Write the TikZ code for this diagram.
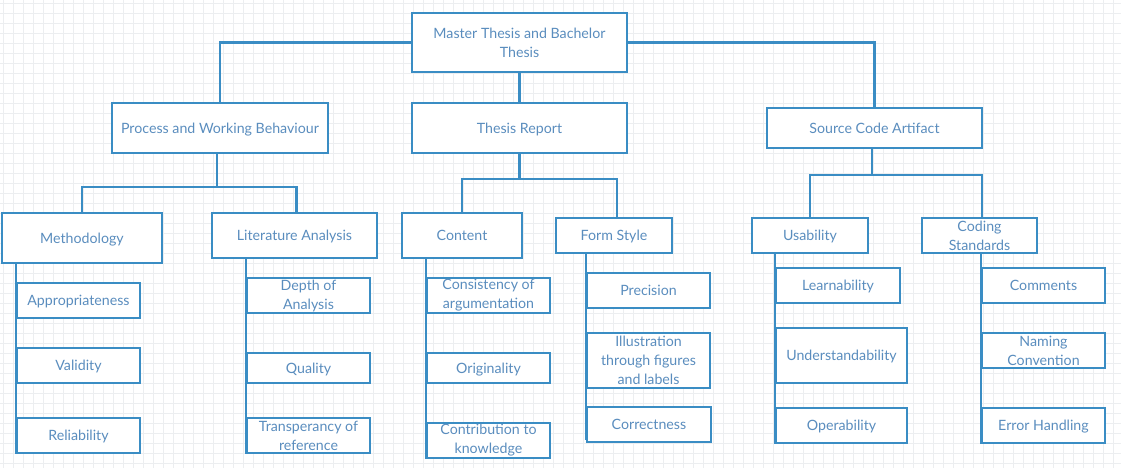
\documentclass[tikz,border=0pt]{standalone}
\usepackage{fontspec}
\setmainfont{Lato}
\usetikzlibrary{positioning}
\definecolor{boxblue}{HTML}{3A8DC4}
\definecolor{textblue}{HTML}{5A8DBE}
\definecolor{gridgrey}{HTML}{ECEEF0}
\tikzstyle{block} = [rectangle, draw=boxblue, line width=2.4pt, fill=white, text=textblue, align=center, inner sep=0pt, font=\fontsize{14.2}{19}\selectfont]
\tikzstyle{oneline} = [block, text height=12.5pt, text depth=1.8pt]
\tikzstyle{line} = [draw=boxblue, line width=2.4pt]
\tikzstyle{gridline} = [draw=gridgrey, line width=0.8pt]

\begin{document}
\begin{tikzpicture}[x=1pt, y=-1pt]
    \useasboundingbox (0,0) rectangle (1121,468);
    % Background grid
    \fill[white] (0,0) rectangle (1121,468);
    \foreach \gx in {3,13,...,1121} \path[gridline] (\gx,0) -- (\gx,468);
    \foreach \gy in {3,13,...,468} \path[gridline] (0,\gy) -- (1121,\gy);
    % Place nodes
    \node [block, minimum width=215, minimum height=59] (thesis) at (519.5,42.5) {Master Thesis and Bachelor\\Thesis};
    \node [oneline, minimum width=216, minimum height=50] (process) at (220,128) {Process and Working Behaviour};
    \node [oneline, minimum width=215, minimum height=50] (report) at (519.5,128) {Thesis Report};
    \node [oneline, minimum width=215, minimum height=40] (source) at (874.5,128) {Source Code Artifact};
    \node [oneline, minimum width=160, minimum height=50] (method) at (82,238) {Methodology};
    \node [oneline, minimum width=165, minimum height=45] (litan) at (294.5,235.5) {Literature Analysis};
    \node [oneline, minimum width=120, minimum height=45] (content) at (462,235.5) {Content};
    \node [oneline, minimum width=116, minimum height=35] (form) at (614,235.5) {Form Style};
    \node [oneline, minimum width=116, minimum height=35] (usab) at (810,235.5) {Usability};
    \node [block, minimum width=115, minimum height=35] (coding) at (979.5,235.5) {Coding\\Standards};
    % Methodology
    \node [oneline, minimum width=123, minimum height=35] (approp) at (78.5,300.5) {Appropriateness};
    \node [oneline, minimum width=123, minimum height=35] (valid) at (78.5,365.5) {Validity};
    \node [oneline, minimum width=123, minimum height=35] (reliab) at (78.5,435.5) {Reliability};
    % Literature Analysis
    \node [block, minimum width=123, minimum height=35] (depth) at (308.5,295.5) {Depth of\\Analysis};
    \node [oneline, minimum width=123, minimum height=30] (quality) at (308.5,368) {Quality};
    \node [block, minimum width=123, minimum height=35] (transp) at (308.5,435.5) {Transperancy of\\reference};
    % Content
    \node [block, minimum width=123, minimum height=35] (consist) at (488.5,295.5) {Consistency of\\argumentation};
    \node [oneline, minimum width=123, minimum height=30] (origin) at (488.5,368) {Originality};
    \node [block, minimum width=123, minimum height=35] (contrib) at (488.5,440.5) {Contribution to\\knowledge};
    % Form Style
    \node [oneline, minimum width=123, minimum height=35] (precis) at (648.5,290.5) {Precision};
    \node [block, minimum width=123, minimum height=55] (illus) at (648.5,360.5) {Illustration\\through figures\\and labels};
    \node [oneline, minimum width=124, minimum height=35] (correct) at (649,424.5) {Correctness};
    % Usability
    \node [oneline, minimum width=124, minimum height=35] (learn) at (838,285.5) {Learnability};
    \node [oneline, minimum width=131, minimum height=55] (underst) at (841.5,355.5) {Understandability};
    \node [oneline, minimum width=131, minimum height=35] (operab) at (841.5,425.5) {Operability};
    % Coding Standards
    \node [oneline, minimum width=123, minimum height=35] (comment) at (1043.5,285.5) {Comments};
    \node [block, minimum width=123, minimum height=35] (naming) at (1043.5,350.5) {Naming\\Convention};
    \node [oneline, minimum width=123, minimum height=35] (errhand) at (1043.5,425.5) {Error Handling};
    % Draw edges
    \path [line] (thesis.west) -| (process.north);
    \path [line] (thesis.east) -| (source.north);
    \path [line] (thesis.south) -- (report.north);
    \path [line] ([xshift=-3pt]process.south) -- ++(0,33) -| (method.north);
    \path [line] ([xshift=-3pt]process.south) -- ++(0,33) -| ([xshift=2pt]litan.north);
    \path [line] (report.south) -- ++(0,25) -| (content.north);
    \path [line] (report.south) -- ++(0,25) -| ([xshift=3pt]form.north);
    \path [line] ([xshift=-2.5pt]source.south) -- ++(0,26) -| (usab.north);
    \path [line] ([xshift=-2.5pt]source.south) -- ++(0,26) -| ([xshift=2.5pt]coding.north);
    \path [line] (method.south -| reliab.west) -- (reliab.south west);
    \path [line] (litan.south -| transp.west) -- (transp.south west);
    \path [line] (content.south -| contrib.west) -- (contrib.south west);
    \path [line] (form.south -| correct.west) -- ([yshift=3pt]correct.south west);
    \path [line] (usab.south -| operab.west) -- (operab.south west);
    \path [line] (coding.south -| errhand.west) -- (errhand.south west);
\end{tikzpicture}
\end{document}
